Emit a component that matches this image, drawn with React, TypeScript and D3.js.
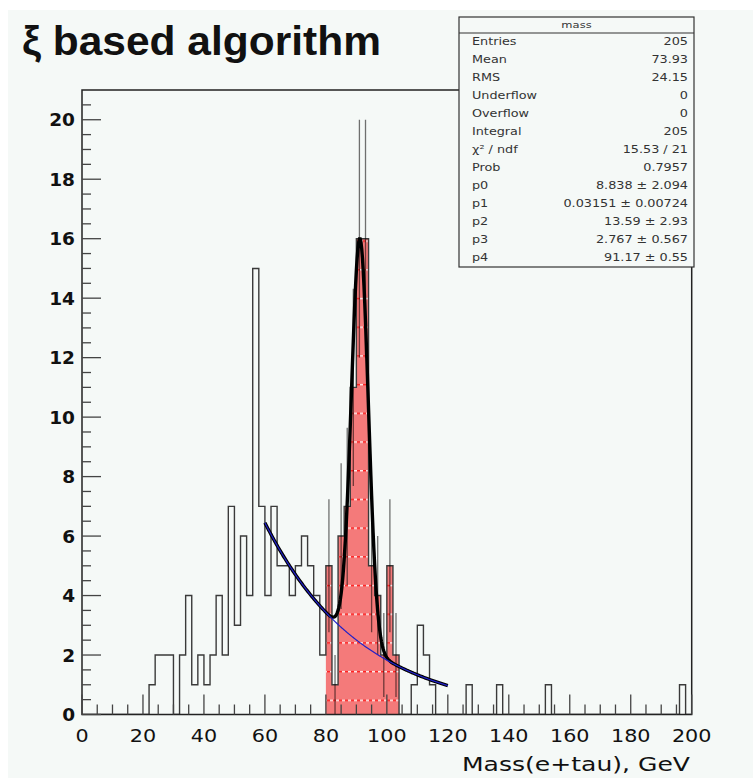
import * as d3 from 'd3';

// histogram "mass": 100 bins of 2 GeV between 0 and 200
const binWidth = 2;
const massCounts = [
  0, 0, 0, 0, 0, 0, 0, 0, 0, 0,
  0, 1, 2, 2, 2, 0, 2, 4, 1, 2,
  1, 2, 4, 2, 7, 3, 6, 4, 15, 7,
  4, 7, 5, 5, 4, 5, 6, 5, 4, 2,
  5, 1, 6, 7, 11, 16, 16, 5, 4, 2,
  5, 2, 0, 0, 1, 3, 2, 1, 0, 0,
  0, 0, 0, 1, 0, 0, 0, 0, 1, 0,
  0, 0, 0, 0, 0, 0, 1, 0, 0, 0,
  0, 0, 0, 0, 0, 0, 0, 0, 0, 0,
  0, 0, 0, 0, 0, 0, 0, 0, 1, 0,
];
// fit window shown in red
const peakLo = 80;
const peakHi = 104;

// fit: p0*exp(-p1*(m-50)) + p2*gaus(m; p4, p3), drawn between 60 and 120
const fitRange: [number, number] = [60, 120];
const fitParams = [8.838, 0.03151, 13.59, 2.767, 91.17];

const statsTitle = 'mass';
const statsLabels = ['Entries', 'Mean', 'RMS', 'Underflow', 'Overflow', 'Integral', 'χ² / ndf', 'Prob', 'p0', 'p1', 'p2', 'p3', 'p4'];
const statsValues = ['205', '73.93', '24.15', '0', '0', '205', '15.53 / 21', '0.7957', '8.838 ± 2.094', '0.03151 ± 0.00724', '13.59 ± 2.93', '2.767 ± 0.567', '91.17 ± 0.55'];

const xTickLabels = [0, 20, 40, 60, 80, 100, 120, 140, 160, 180, 200];
const yTickLabels = [0, 2, 4, 6, 8, 10, 12, 14, 16, 18, 20];

const W = 753;
const H = 778;
const bg = '#f5f9f7';
const titleFont = '"Liberation Sans", Arial, Helvetica, sans-serif';
const font = '"DejaVu Sans", Verdana, sans-serif';

const x = d3.scaleLinear().domain([0, 200]).range([82, 691.7]);
const y = d3.scaleLinear().domain([0, 21]).range([714.5, 90]);

const background = (m: number) => fitParams[0] * Math.exp(-fitParams[1] * (m - 50));
const fitFn = (m: number) =>
  background(m) + fitParams[2] * Math.exp(-0.5 * ((m - fitParams[4]) / fitParams[3]) ** 2);

export default function App() {
  const bins = massCounts.map((c, i) => ({ lo: i * binWidth, c }));
  const stepPts: [number, number][] = bins.map((b) => [b.lo, b.c]);
  stepPts.push([200, massCounts[massCounts.length - 1]]);
  const stepLine = d3
    .line<[number, number]>()
    .x((d) => x(d[0]))
    .y((d) => y(d[1]))
    .curve(d3.curveStepAfter);

  const peakBins = bins.filter((b) => b.lo >= peakLo && b.lo < peakHi);
  const peakPts: [number, number][] = peakBins.map((b) => [b.lo, b.c]);
  peakPts.push([peakHi, peakBins[peakBins.length - 1].c]);
  const peakArea = d3
    .area<[number, number]>()
    .x((d) => x(d[0]))
    .y0(y(0))
    .y1((d) => y(d[1]))
    .curve(d3.curveStepAfter);

  const fitXs = d3.range(fitRange[0], fitRange[1] + 0.001, 0.25);
  const fitLine = d3
    .line<number>()
    .x((m) => x(m))
    .y((m) => y(fitFn(m)));
  const bgLine = d3
    .line<number>()
    .x((m) => x(m))
    .y((m) => y(background(m)));

  const xMinor = d3.range(0, 201, 5);
  const yMinor = d3.range(0, 21, 0.5);

  const boxL = 459;
  const boxR = 694;
  const boxT = 17;
  const boxB = 267;
  const boxHead = 33;
  const rowH = 18;
  const sx = 1.28;

  return (
    <svg
      width={W}
      height={H}
      style={{ position: 'absolute', left: 0, top: 0, display: 'block' }}
      fontFamily={font}
    >
      <defs>
        <pattern id="dots" patternUnits="userSpaceOnUse" x={0} y={y(0.5)} width={6} height={28.7}>
          <rect x={0} y={0} width={3} height={1.4} fill="#ffffff" opacity={0.85} />
          <rect x={3} y={0} width={3} height={1.4} fill="#ff2020" />
        </pattern>
        <clipPath id="frame">
          <rect x={x(0)} y={y(21)} width={x(200) - x(0)} height={y(0) - y(21)} />
        </clipPath>
      </defs>
      <rect x={0} y={0} width={W} height={H} fill="#ffffff" />
      <rect x={8} y={10} width={W - 8} height={H - 10} fill={bg} />

      <text
        x={22}
        y={55}
        fontFamily={titleFont}
        fontSize={41}
        fontWeight="bold"
        fill="#111"
        textLength={359}
        lengthAdjust="spacingAndGlyphs"
      >
        ξ based algorithm
      </text>

      <g clipPath="url(#frame)">
        <path d={peakArea(peakPts) ?? ''} fill="#f47a7a" />
        <path d={peakArea(peakPts) ?? ''} fill="url(#dots)" />
        <path d={stepLine(stepPts) ?? ''} fill="none" stroke="#3a3a3a" strokeWidth={1.4} />
        {peakBins.map((b) => (
          <line
            key={b.lo}
            x1={x(b.lo + binWidth / 2)}
            x2={x(b.lo + binWidth / 2)}
            y1={y(Math.max(0, b.c - Math.sqrt(b.c)))}
            y2={y(b.c + Math.sqrt(b.c))}
            stroke="#000"
            strokeOpacity={0.55}
            strokeWidth={1.3}
          />
        ))}
        <path d={fitLine(fitXs) ?? ''} fill="none" stroke="#000" strokeWidth={3.4} />
        <path d={bgLine(fitXs) ?? ''} fill="none" stroke="#2020c8" strokeWidth={1.2} />
      </g>

      {/* frame */}
      <rect
        x={x(0)}
        y={y(21)}
        width={x(200) - x(0)}
        height={y(0) - y(21)}
        fill="none"
        stroke="#222"
        strokeWidth={1.5}
      />

      {/* y axis */}
      {yMinor.map((v) => {
        const major = v % 2 === 0;
        return (
          <line
            key={'y' + v}
            x1={x(0)}
            x2={x(0) + (major ? 19 : 9)}
            y1={y(v)}
            y2={y(v)}
            stroke="#444"
            strokeWidth={1.3}
          />
        );
      })}
      {yTickLabels.map((v) => (
        <text
          key={'yl' + v}
          x={75}
          y={y(v)}
          dy="0.36em"
          textAnchor="end"
          fontSize={18.5}
          fontWeight="bold"
          fill="#111"
        >
          {v}
        </text>
      ))}

      {/* x axis */}
      {xMinor.map((v) => {
        const major = v % 20 === 0;
        return (
          <line
            key={'x' + v}
            x1={x(v)}
            x2={x(v)}
            y1={y(0)}
            y2={y(0) - (major ? 20 : 10)}
            stroke="#444"
            strokeWidth={1.3}
          />
        );
      })}
      {xTickLabels.map((v) => (
        <text
          key={'xl' + v}
          transform={`translate(${x(v)},742) scale(1.12,1)`}
          textAnchor="middle"
          fontSize={18.5}
          fill="#111"
        >
          {v}
        </text>
      ))}
      <text
        x={462}
        y={771}
        fontSize={20}
        fill="#111"
        textLength={228}
        lengthAdjust="spacingAndGlyphs"
      >
        Mass(e+tau), GeV
      </text>

      {/* stats box */}
      <rect x={boxL} y={boxT} width={boxR - boxL} height={boxB - boxT} fill={bg} stroke="#333" strokeWidth={1.2} />
      <line x1={boxL} x2={boxR} y1={boxHead} y2={boxHead} stroke="#333" strokeWidth={1.2} />
      <text
        transform={`translate(${(boxL + boxR) / 2},${boxT + 11}) scale(${sx},1)`}
        textAnchor="middle"
        fontSize={9}
        fill="#333"
      >
        {statsTitle}
      </text>
      {statsLabels.map((label, i) => (
        <g key={label}>
          <text
            transform={`translate(472,${41.5 + i * rowH}) scale(${sx},1)`}
            dy="0.36em"
            fontSize={10}
            fill="#333"
          >
            {label}
          </text>
          <text
            transform={`translate(688,${41.5 + i * rowH}) scale(${sx},1)`}
            dy="0.36em"
            textAnchor="end"
            fontSize={10}
            fill="#333"
          >
            {statsValues[i]}
          </text>
        </g>
      ))}
    </svg>
  );
}
